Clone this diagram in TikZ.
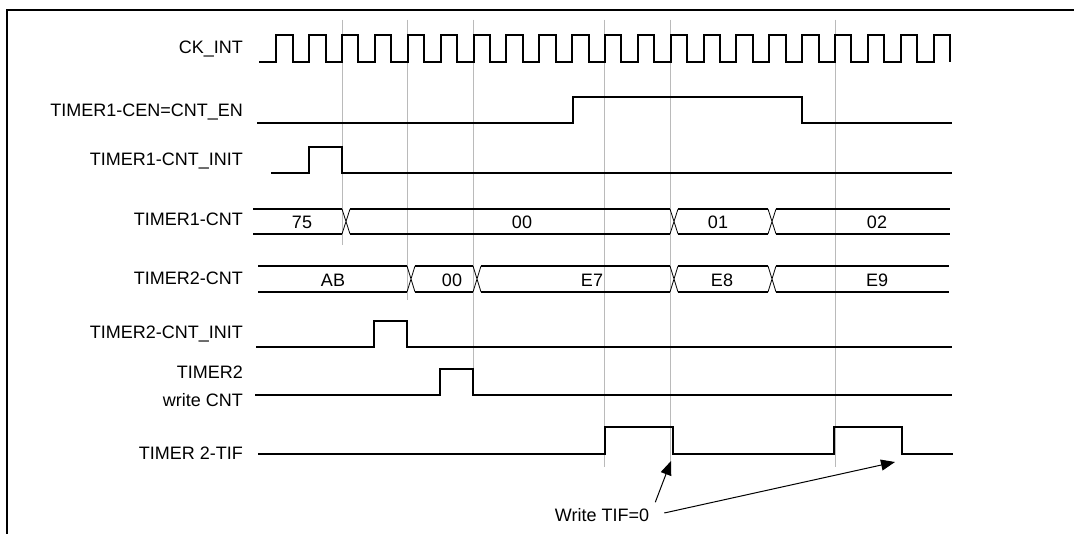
\documentclass[tikz,border=0pt]{standalone}
\usepackage{fontspec}
\setmainfont{Liberation Sans}
\usetikzlibrary{arrows.meta}
\begin{document}
\begin{tikzpicture}[x=1pt,y=-1pt,
  sig/.style={line width=2pt, line join=miter},
  busl/.style={line width=2pt},
  busx/.style={line width=0.8pt},
  gridline/.style={draw=black!27, line width=0.9pt},
  lbl/.style={anchor=base east, inner sep=0pt, font=\fontsize{18}{20}\selectfont},
  val/.style={anchor=base, inner sep=0pt, font=\fontsize{18}{20}\selectfont},
  callout/.style={line width=1pt, -{Triangle[length=14pt,width=11pt]}}]
\useasboundingbox (0,0) rectangle (1074,534);
\fill[white] (0,0) rectangle (1074,534);
% frame
\draw[line width=2pt] (7,534) -- (7,10) -- (1074,10);
% gray reference lines
\draw[gridline] (342,20) -- (342,245);
\draw[gridline] (407,20) -- (407,300);
\draw[gridline] (473,20) -- (473,395);
\draw[gridline] (604,20) -- (604,467);
\draw[gridline] (670,20) -- (670,463);
\draw[gridline] (835,20) -- (835,467);
% labels
\node[lbl] (lck)   at (243,54)  {CK\_INT};
\node[lbl] (lcen)  at (243,117) {TIMER1-CEN=CNT\_EN};
\node[lbl] (lini1) at (243,166) {TIMER1-CNT\_INIT};
\node[lbl] (lcnt1) at (243,226) {TIMER1-CNT};
\node[lbl] (lcnt2) at (243,285) {TIMER2-CNT};
\node[lbl] (lini2) at (243,339) {TIMER2-CNT\_INIT};
\node[lbl] (lwr1)  at (243,379) {TIMER2};
\node[lbl] (lwr2)  at (243,407) {write CNT};
\node[lbl] (ltif)  at (243,460) {TIMER 2-TIF};
% clock
\draw[sig] (259,62) foreach \k in {0,...,20} { -- ({276.3+32.87*\k},62) -- ({276.3+32.87*\k},35) -- ({292.7+32.87*\k},35) -- ({292.7+32.87*\k},62) };
% single-bit signals
\draw[sig] (257,123) -- (573,123) -- (573,97) -- (802,97) -- (802,123) -- (952,123);
\draw[sig] (271,173) -- (309,173) -- (309,147) -- (342,147) -- (342,173) -- (952,173);
\draw[sig] (256,347) -- (374,347) -- (374,321) -- (407,321) -- (407,347) -- (952,347);
\draw[sig] (255,395) -- (440,395) -- (440,369) -- (473,369) -- (473,395) -- (952,395);
\draw[sig] (258,454) -- (605,454) -- (605,427) -- (673,427) -- (673,454) -- (834,454) -- (834,427) -- (902,427) -- (902,454) -- (953,454);
% TIMER1-CNT bus
\foreach \a/\b in {253/342, 350/670, 678/768, 776/950}
  \draw[busl] (\a,209) -- (\b,209) (\a,234) -- (\b,234);
\foreach \t in {342,670,768}
  \draw[busx] (\t,209) -- (\t+8,234) (\t,234) -- (\t+8,209);
\node[val] (v75) at (302,229) {75};
\node[val] (v00a) at (522,229) {00};
\node[val] (v01) at (718,229) {01};
\node[val] (v02) at (877,229) {02};
% TIMER2-CNT bus
\foreach \a/\b in {258/407, 415/473, 481/670, 678/768, 776/949}
  \draw[busl] (\a,266) -- (\b,266) (\a,292) -- (\b,292);
\foreach \t in {407,473,670,768}
  \draw[busx] (\t,266) -- (\t+8,292) (\t,292) -- (\t+8,266);
\node[val] (vab) at (333,287) {AB};
\node[val] (v00b) at (452,287) {00};
\node[val] (ve7) at (592,287) {E7};
\node[val] (ve8) at (722,287) {E8};
\node[val] (ve9) at (877,287) {E9};
% callout
\node[inner sep=0pt, font=\fontsize{18}{20}\selectfont] (wt) at (602,515) {Write TIF=0};
\coordinate (tip1) at (671,461);
\coordinate (tip2) at (895,462);
\draw[callout] ([xshift=6pt,yshift=6pt]wt.north east) -- (tip1);
\draw[callout] ([xshift=15pt,yshift=2pt]wt.east) -- (tip2);
\end{tikzpicture}
\end{document}
